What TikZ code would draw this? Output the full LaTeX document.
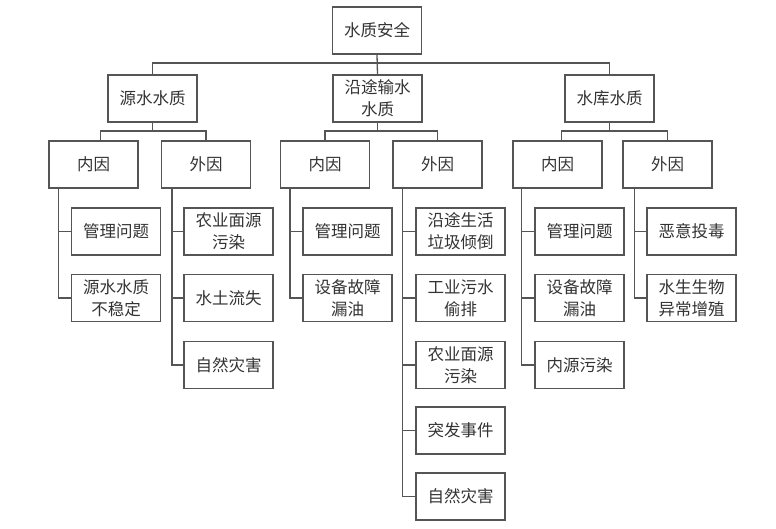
\documentclass[tikz,border=0pt]{standalone}
\usepackage{fontspec}
\setmainfont{Noto Sans CJK SC}
\definecolor{linec}{HTML}{555555}
\definecolor{textc}{HTML}{333333}
\begin{document}
\begin{tikzpicture}[x=1pt,y=-1pt,
  bx/.style={draw=linec, line width=1.3pt, minimum width=89pt, minimum height=47pt,
    inner sep=0pt, align=center, text=textc, font=\fontsize{16.5}{22}\selectfont},
  ln/.style={draw=linec, line width=1.3pt}]
\useasboundingbox[fill=white] (0,0) rectangle (776,528);
% level 1 and 2
\node[bx] (root) at (377,30.5) {水质安全};
\node[bx] (src) at (152.5,98.5) {源水水质};
\node[bx] (mid) at (377.5,98.5) {沿途输水\\水质};
\node[bx] (res) at (609.5,98.5) {水库水质};
\coordinate (b1) at (0,63);
\draw[ln] (root.south) -- (mid.north);
\draw[ln] (src.north) -- (src.north |- b1) -- (res.north |- b1) -- (res.north);
% level 3
\node[bx] (sIn) at (93.5,164.5) {内因};
\node[bx] (sEx) at (206,164.5) {外因};
\node[bx] (mIn) at (325,164.5) {内因};
\node[bx] (mEx) at (437.5,164.5) {外因};
\node[bx] (rIn) at (557.5,164.5) {内因};
\node[bx] (rEx) at (667.5,164.5) {外因};
\coordinate (b2) at (0,131);
\coordinate (sInT) at ([xshift=7pt]sIn.north);
\coordinate (rInT) at ([xshift=4pt]rIn.north);
\draw[ln] (src.south) -- (src.south |- b2);
\draw[ln] (sInT) -- (sInT |- b2) -- (sEx.north |- b2) -- (sEx.north);
\draw[ln] (mid.south) -- (mid.south |- b2);
\draw[ln] (mIn.north) -- (mIn.north |- b2) -- (mEx.north |- b2) -- (mEx.north);
\draw[ln] (res.south) -- (res.south |- b2);
\draw[ln] (rInT) -- (rInT |- b2) -- (rEx.north |- b2) -- (rEx.north);
% level 4 : source
\node[bx] (s1) at (116,231.5) {管理问题};
\node[bx] (s2) at (116,298) {源水水质\\不稳定};
\node[bx] (s3) at (228.5,231.5) {农业面源\\污染};
\node[bx] (s4) at (228.5,298) {水土流失};
\node[bx] (s5) at (228.5,365) {自然灾害};
% level 4 : mid
\node[bx] (m1) at (347.5,231.5) {管理问题};
\node[bx] (m2) at (347.5,298) {设备故障\\漏油};
\node[bx] (m3) at (460.5,231.5) {沿途生活\\垃圾倾倒};
\node[bx] (m4) at (460.5,298) {工业污水\\偷排};
\node[bx] (m5) at (460.5,365) {农业面源\\污染};
\node[bx] (m6) at (460.5,430.5) {突发事件};
\node[bx] (m7) at (460.5,496.5) {自然灾害};
% level 4 : reservoir
\node[bx] (r1) at (579.5,231.5) {管理问题};
\node[bx] (r2) at (579.5,298) {设备故障\\漏油};
\node[bx] (r3) at (579.5,365) {内源污染};
\node[bx] (r4) at (691.5,231.5) {恶意投毒};
\node[bx] (r5) at (691.5,298) {水生生物\\异常增殖};
% spines
\coordinate (sp1) at ([xshift=10pt]sIn.south west);
\coordinate (sp2) at ([xshift=11pt]sEx.south west);
\coordinate (sp3) at ([xshift=10pt]mIn.south west);
\coordinate (sp4) at ([xshift=10pt]mEx.south west);
\coordinate (sp5) at ([xshift=9pt]rIn.south west);
\coordinate (sp6) at ([xshift=12pt]rEx.south west);
\draw[ln] (sp1) |- (s2.west);
\draw[ln] (sp1 |- s1.west) -- (s1.west);
\draw[ln] (sp2) |- (s5.west);
\foreach \n in {s3,s4} \draw[ln] (sp2 |- \n.west) -- (\n.west);
\draw[ln] (sp3) |- (m2.west);
\draw[ln] (sp3 |- m1.west) -- (m1.west);
\draw[ln] (sp4) |- (m7.west);
\foreach \n in {m3,m4,m5,m6} \draw[ln] (sp4 |- \n.west) -- (\n.west);
\draw[ln] (sp5) |- (r3.west);
\foreach \n in {r1,r2} \draw[ln] (sp5 |- \n.west) -- (\n.west);
\draw[ln] (sp6) |- (r5.west);
\draw[ln] (sp6 |- r4.west) -- (r4.west);
\end{tikzpicture}
\end{document}
